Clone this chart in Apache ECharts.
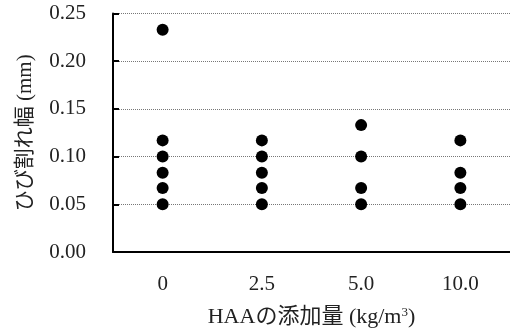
<!DOCTYPE html>
<html>
<head>
<meta charset="utf-8">
<script src="https://cdn.jsdelivr.net/npm/echarts@6/dist/echarts.min.js"></script>
<style>
  html, body { margin: 0; padding: 0; background: #fff; }
  #chart { width: 510px; height: 333px; }
</style>
</head>
<body>
<div id="chart"></div>
<script>
const categories = ["0", "2.5", "5.0", "10.0"];
const widths0 = [0.233, 0.117, 0.1, 0.083, 0.067, 0.05];
const widths25 = [0.117, 0.1, 0.083, 0.067, 0.05];
const widths50 = [0.133, 0.1, 0.067, 0.05];
const widths100 = [0.117, 0.083, 0.067, 0.05];
const yTicks = [0, 0.05, 0.1, 0.15, 0.2, 0.25];

const groups = [widths0, widths25, widths50, widths100];
const points = [];
groups.forEach((vals, i) => {
  vals.forEach((v) => points.push([categories[i], v]));
});

const serif = "'Liberation Serif', 'Noto Sans CJK JP', serif";
const chart = echarts.init(document.getElementById("chart"));
chart.setOption({
  animation: false,
  grid: { left: 113, right: -3, top: 13.5, bottom: 78, containLabel: false },
  xAxis: {
    type: "category",
    data: categories,
    boundaryGap: true,
    axisLine: { lineStyle: { color: "#000", width: 2 } },
    axisTick: { alignWithLabel: true, inside: true, length: 4, lineStyle: { color: "#000", width: 2 } },
    axisLabel: { color: "#222", fontFamily: serif, fontSize: 21, margin: 22 },
    splitLine: { show: false },
    name: "HAAの添加量 (kg/m{sup|3})",
    nameLocation: "middle",
    nameGap: 54,
    nameTextStyle: {
      color: "#222", fontFamily: serif, fontSize: 22,
      rich: { sup: { fontSize: 13, verticalAlign: "top", padding: [0, 0, 9, 0], fontFamily: serif, color: "#222" } }
    }
  },
  yAxis: {
    type: "value",
    min: yTicks[0],
    max: yTicks[yTicks.length - 1],
    interval: 0.05,
    axisLine: { show: true, lineStyle: { color: "#000", width: 2 } },
    axisTick: { show: true, inside: true, length: 6, lineStyle: { color: "#000", width: 2 } },
    axisLabel: {
      color: "#222", fontFamily: serif, fontSize: 21, margin: 27,
      formatter: (v) => v.toFixed(2)
    },
    splitLine: { show: true, lineStyle: { color: "#777", type: [1, 1], width: 1 } },
    name: "ひび割れ幅 (mm)",
    nameLocation: "middle",
    nameGap: 77,
    nameRotate: 90,
    nameTextStyle: { color: "#222", fontFamily: serif, fontSize: 21 }
  },
  series: [{
    type: "scatter",
    data: points,
    symbol: "circle",
    symbolSize: 12,
    itemStyle: { color: "#000", opacity: 1 }
  }]
});
</script>
</body>
</html>
